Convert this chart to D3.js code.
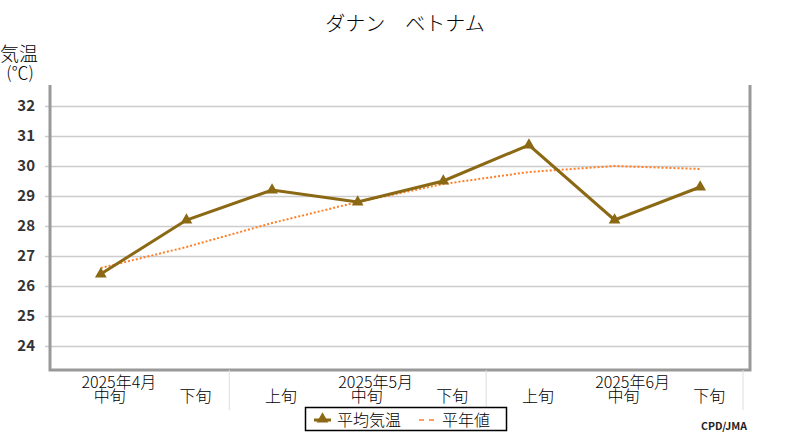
<!DOCTYPE html>
<html>
<head>
<meta charset="utf-8">
<script src="https://cdn.jsdelivr.net/npm/d3@7"></script>
<style>
  body { margin: 0; background: #fff; }
  text { font-family: "Noto Sans CJK JP", sans-serif; }
</style>
</head>
<body>
<div id="chart-holder"></div>
<script>
// data
const categories = ["4月中旬", "4月下旬", "5月上旬", "5月中旬", "5月下旬", "6月上旬", "6月中旬", "6月下旬"];
const subLabels = ["中旬", "下旬", "上旬", "中旬", "下旬", "上旬", "中旬", "下旬"];
const monthLabels = ["2025年4月", "2025年5月", "2025年6月"];
const monthAt = ["4月中旬", "5月中旬", "6月中旬"];
const monthEnds = ["4月下旬", "5月下旬", "6月下旬"];
const meanTemp = [26.4, 28.2, 29.2, 28.8, 29.5, 30.7, 28.2, 29.3];
const normalTemp = [26.6, 27.3, 28.1, 28.8, 29.4, 29.8, 30.0, 29.9];
const yTicks = [24, 25, 26, 27, 28, 29, 30, 31, 32];

const width = 800;
const height = 440;
const marginTop = 85;
const marginBottom = 70;
const marginLeft = 50;
const plotRight = 750;

const svg = d3
  .select("#chart-holder")
  .append("svg")
  .attr("width", width)
  .attr("height", height);

const x = d3.scaleBand().domain(categories).range([58, 743]).padding(0);
const cx = (c) => x(c) + x.bandwidth() / 2;

const y = d3
  .scaleLinear()
  .domain([23.2, 32.7])
  .range([height - marginBottom, marginTop]);

// title
svg
  .append("text")
  .attr("x", 405)
  .attr("y", 31)
  .attr("text-anchor", "middle")
  .attr("font-size", 20)
  .attr("font-weight", 300)
  .text("ダナン　ベトナム");

// y label
svg.append("text").attr("x", 19).attr("y", 61).attr("text-anchor", "middle")
  .attr("font-size", 19).attr("font-weight", 300).text("気温");
svg.append("text").attr("x", 20).attr("y", 79).attr("text-anchor", "middle")
  .attr("font-size", 17).attr("font-weight", 300).text("(℃)");

// grid + y ticks
svg
  .append("g")
  .attr("transform", `translate(${marginLeft},0)`)
  .call(
    d3.axisLeft(y)
      .tickValues(yTicks)
      .tickSize(-(plotRight - marginLeft))
      .tickSizeOuter(0)
      .tickPadding(15)
      .tickFormat(d3.format("d"))
  )
  .call((g) => g.select(".domain").remove())
  .call((g) => g.selectAll(".tick line").attr("stroke", "#cccccc").attr("stroke-width", 1.5).attr("x1", -5))
  .call((g) => g.selectAll(".tick text")
    .attr("fill", "#333")
    .attr("font-family", "Liberation Sans, Arial, sans-serif")
    .attr("font-weight", "bold")
    .attr("font-size", 15));

// frame (left, bottom, right)
svg
  .append("path")
  .attr("d", `M${marginLeft},${marginTop}V${height - marginBottom}H${plotRight}V${marginTop}`)
  .attr("fill", "none")
  .attr("stroke", "#999999")
  .attr("stroke-width", 3);

// month separators
svg
  .selectAll(".sep")
  .data(monthEnds)
  .enter()
  .append("line")
  .attr("x1", (d) => x(d) + x.bandwidth())
  .attr("x2", (d) => x(d) + x.bandwidth())
  .attr("y1", height - marginBottom)
  .attr("y2", 410)
  .attr("stroke", "#dddddd")
  .attr("stroke-width", 1);

// x labels (month row overlaps the sub row as in the original)
svg
  .selectAll(".sub")
  .data(categories)
  .enter()
  .append("text")
  .attr("x", (d) => cx(d) + 9)
  .attr("y", 402)
  .attr("text-anchor", "middle")
  .attr("font-size", 16)
  .attr("font-weight", 300)
  .text((d, i) => subLabels[i]);

svg
  .selectAll(".month")
  .data(monthLabels)
  .enter()
  .append("text")
  .attr("x", (d, i) => cx(monthAt[i]) + 18)
  .attr("y", 388)
  .attr("text-anchor", "middle")
  .attr("font-size", 16)
  .attr("font-weight", 300)
  .text((d) => d);

// normal line
const line = d3.line().x((d, i) => cx(categories[i])).y((d) => y(d));

svg
  .append("path")
  .datum(normalTemp)
  .attr("d", line)
  .attr("fill", "none")
  .attr("stroke", "#ff7f27")
  .attr("stroke-width", 2)
  .attr("stroke-dasharray", "2,2");

// mean temperature line
svg
  .append("path")
  .datum(meanTemp)
  .attr("d", line)
  .attr("fill", "none")
  .attr("stroke", "#8b6914")
  .attr("stroke-width", 3);

const tri = d3.symbol().type(d3.symbolTriangle).size(60);
svg
  .selectAll(".pt")
  .data(meanTemp)
  .enter()
  .append("path")
  .attr("d", tri)
  .attr("transform", (d, i) => `translate(${cx(categories[i])},${y(d)})`)
  .attr("fill", "#8b6914");

// legend
const legend = svg.append("g");
legend
  .append("rect")
  .attr("x", 305.5)
  .attr("y", 407.5)
  .attr("width", 201)
  .attr("height", 23)
  .attr("fill", "#fff")
  .attr("stroke", "#000")
  .attr("stroke-width", 1.5);
legend.append("line").attr("x1", 314).attr("x2", 331).attr("y1", 420).attr("y2", 420)
  .attr("stroke", "#8b6914").attr("stroke-width", 3);
legend.append("path").attr("d", tri).attr("transform", "translate(322.5,419)").attr("fill", "#8b6914");
legend.append("text").attr("x", 337).attr("y", 426).attr("font-size", 16).attr("font-weight", 300).text("平均気温");
legend.append("line").attr("x1", 419).attr("x2", 435).attr("y1", 420).attr("y2", 420)
  .attr("stroke", "#ff7f27").attr("stroke-width", 1.5).attr("stroke-dasharray", "5,5");
legend.append("text").attr("x", 442).attr("y", 426).attr("font-size", 16).attr("font-weight", 300).text("平年値");

// credit
svg
  .append("text")
  .attr("x", 747)
  .attr("y", 430)
  .attr("text-anchor", "end")
  .attr("font-family", "DejaVu Sans Mono, monospace")
  .attr("font-weight", "bold")
  .attr("font-size", 10.5)
  .attr("fill", "#222")
  .text("CPD/JMA");
</script>
</body>
</html>
